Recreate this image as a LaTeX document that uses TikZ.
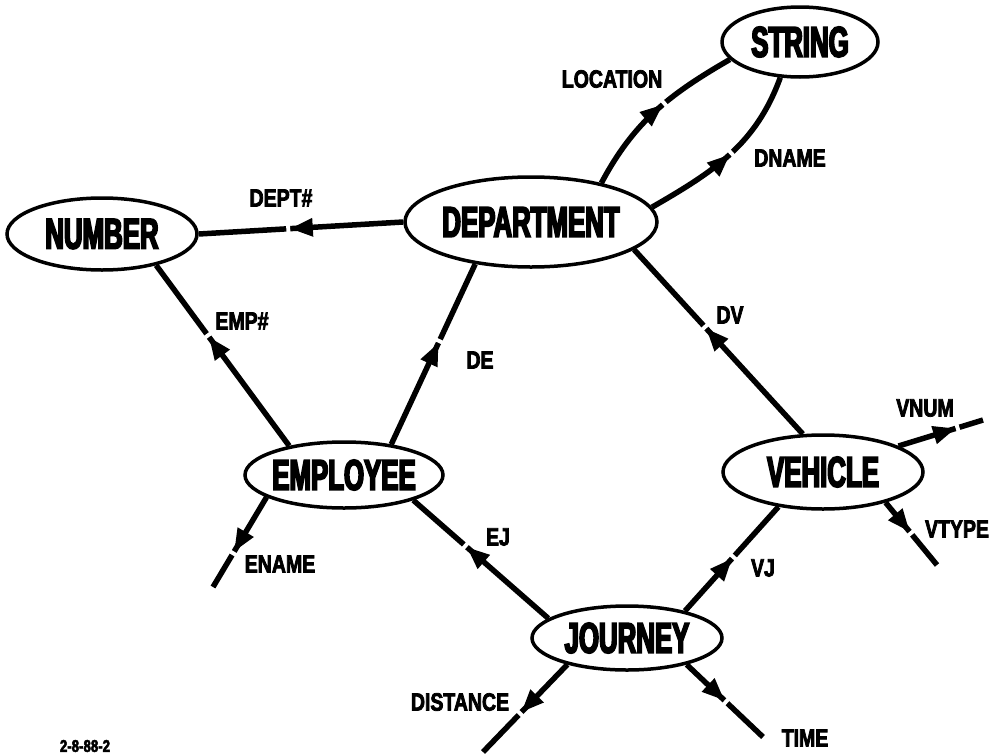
\documentclass[tikz,border=0pt]{standalone}
\usepackage{fontspec}
\usepackage{tikz}
\usetikzlibrary{shapes.geometric,arrows.meta,decorations.markings}
\newfontfamily\entityfont[FakeStretch=0.6,BoldFeatures={FakeBold=4}]{Liberation Sans}
\newfontfamily\rolefont[FakeStretch=0.78,BoldFeatures={FakeBold=3}]{Liberation Sans}

\tikzset{
  entity/.style={draw, ellipse, line width=3.5pt, inner sep=0pt, inner xsep=-8pt,
    font=\entityfont\bfseries\fontsize{43}{43}\selectfont},
  role/.style={inner sep=0pt, font=\rolefont\bfseries\fontsize{25}{25}\selectfont},
  conn/.style={line width=5.5pt, postaction={decorate},
    decoration={markings, mark=at position #1 with
      {\fill[white] (0.6pt,-4pt) rectangle (4.5pt,4pt);
       \arrow{Triangle[length=22pt,width=19pt,line width=0pt]}}}}
}

\begin{document}
\begin{tikzpicture}[x=1pt,y=-1pt]
\useasboundingbox (0,0) rectangle (995,755);
\node[entity, minimum width=156pt, minimum height=70pt] (string) at (800,42) {STRING};
\node[entity, minimum width=252pt, minimum height=90pt] (department) at (531,222) {DEPARTMENT};
\node[entity, minimum width=190pt, minimum height=72pt] (number) at (102,234) {NUMBER};
\node[entity, minimum width=198pt, minimum height=66pt] (employee) at (344,475) {EMPLOYEE};
\node[entity, minimum width=200pt, minimum height=74pt] (vehicle) at (823,472) {VEHICLE};
\node[entity, minimum width=190pt, minimum height=64pt] (journey) at (627,638) {JOURNEY};
% loose ends
\coordinate (enameEnd) at (213,587);
\coordinate (vnumEnd) at (983,420);
\coordinate (vtypeEnd) at (937,565);
\coordinate (distanceEnd) at (483,752);
\coordinate (timeEnd) at (763,737);
% functions
\draw[conn=0.55] (department.west) -- (number.east);
\draw[conn=0.55] (department.29) to[out=62,in=210] (string.194);
\draw[conn=0.5] (department.7) to[out=30,in=250] (string.241);
\draw[conn=0.6] (employee.152) -- (number.330);
\draw[conn=0.56] (employee.33) -- (department.217);
\draw[conn=0.57] (vehicle.118) -- (department.345);
\draw[conn=0.6] (journey.166) -- (employee.340);
\draw[conn=0.5] (journey.25) -- (vehicle.218);
\draw[conn=0.6] (employee.196) -- (enameEnd);
\draw[conn=0.67] (vehicle.19) -- (vnumEnd);
\draw[conn=0.46] (vehicle.334) -- (vtypeEnd);
\draw[conn=0.54] (journey.204) -- (distanceEnd);
\draw[conn=0.49] (journey.336) -- (timeEnd);
% labels
\node[role] (deptLbl) at (281,198) {DEPT\#};
\node[role] (locationLbl) at (612,79) {LOCATION};
\node[role] (dnameLbl) at (790,158) {DNAME};
\node[role] (empLbl) at (242,321) {EMP\#};
\node[role] (deLbl) at (480,360) {DE};
\node[role] (dvLbl) at (730,315) {DV};
\node[role] (ejLbl) at (498,537) {EJ};
\node[role] (vjLbl) at (763,568) {VJ};
\node[role] (enameLbl) at (280,564) {ENAME};
\node[role] (vnumLbl) at (925,408) {VNUM};
\node[role] (vtypeLbl) at (957,529) {VTYPE};
\node[role] (distanceLbl) at (460,702) {DISTANCE};
\node[role] (timeLbl) at (805,738) {TIME};
\node[inner sep=0pt, font=\rolefont\bfseries\fontsize{17}{17}\selectfont] (drawingNo) at (85,746) {2-8-88-2};
\end{tikzpicture}
\end{document}
